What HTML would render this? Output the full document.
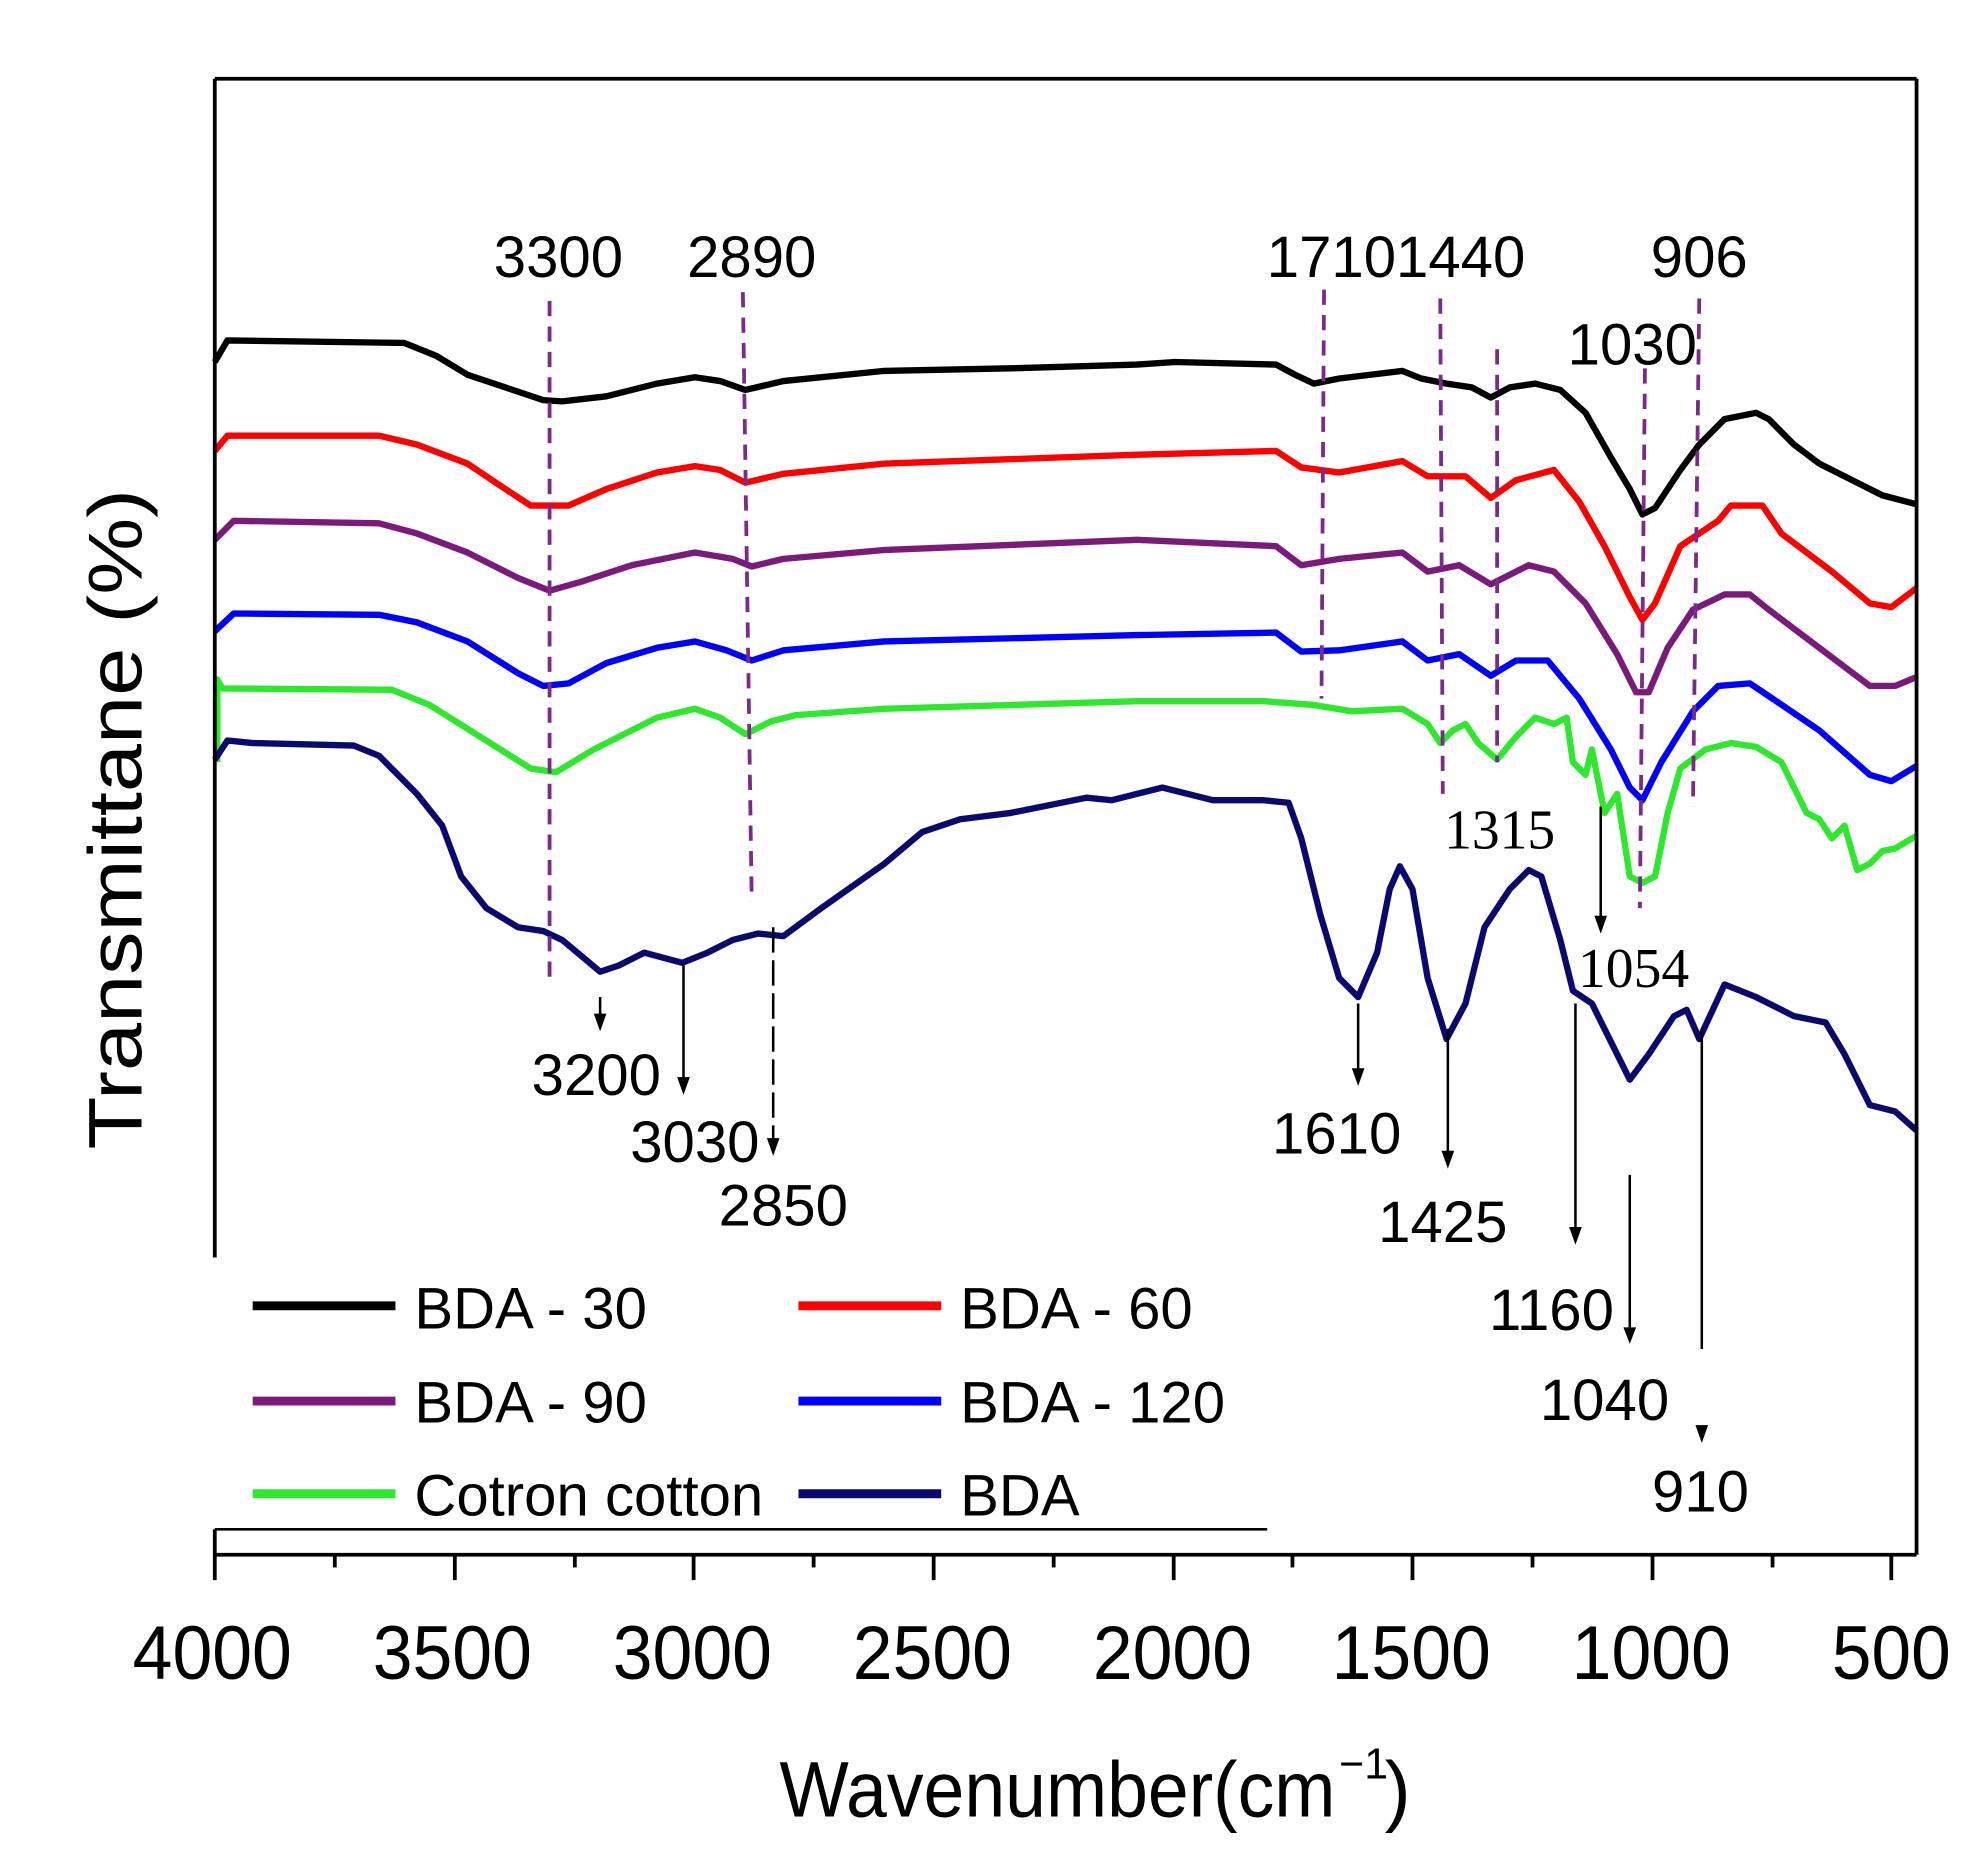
<!DOCTYPE html>
<html><head><meta charset="utf-8"><style>html,body{margin:0;padding:0;background:#fff}svg{display:block}</style></head>
<body>
<svg width="1981" height="1871" viewBox="0 0 1568 1473" preserveAspectRatio="none" xmlns="http://www.w3.org/2000/svg" font-family="Liberation Sans, sans-serif">
<rect width="1568" height="1473" fill="#fff"/>
<g fill="none" stroke-width="5" stroke-linejoin="round">
<polyline stroke="#000" points="170,285 180,268 320,270 345,280 370,295 400,305 430,315 445,316 480,312 520,302 550,297 570,300 590,307 620,300 700,292 800,290 900,287 930,285 1010,287 1025,295 1040,302 1060,298 1110,292 1125,298 1145,302 1165,305 1180,313 1195,305 1215,302 1235,307 1255,325 1275,360 1290,385 1300,405 1310,400 1330,370 1345,350 1365,330 1390,325 1400,330 1420,350 1440,365 1470,380 1490,390 1517,397"/>
<polyline stroke="#f00" points="170,355 180,343 300,343 330,350 370,365 400,385 420,398 450,398 480,385 520,372 550,367 570,370 590,380 620,373 700,365 900,358 1010,355 1030,368 1060,372 1110,363 1130,375 1160,375 1180,392 1200,378 1230,370 1250,395 1270,430 1290,470 1300,488 1310,475 1330,430 1360,410 1370,398 1395,398 1410,420 1450,450 1480,475 1497,478 1517,463"/>
<polyline stroke="#7a1a7a" points="170,425 185,410 300,412 330,420 370,435 410,455 435,465 460,458 500,445 550,435 580,440 595,446 620,440 700,433 900,425 1010,430 1030,445 1060,440 1110,435 1130,450 1155,445 1180,460 1210,445 1230,450 1255,475 1280,515 1295,545 1305,545 1320,510 1340,480 1365,468 1385,468 1400,480 1440,510 1480,540 1500,540 1517,533"/>
<polyline stroke="#00f" points="170,497 185,483 300,484 330,490 370,505 410,530 430,540 450,538 480,522 520,510 550,505 575,512 595,520 620,512 700,505 900,500 1010,498 1030,513 1060,512 1110,505 1130,520 1155,515 1180,532 1200,520 1225,520 1250,550 1275,590 1290,620 1300,630 1315,600 1340,560 1360,540 1385,538 1400,548 1440,575 1480,610 1497,615 1517,603"/>
<polyline stroke="#2ee82e" points="172,600 172,535 176,542 310,543 340,555 380,580 420,605 440,608 470,590 520,565 550,558 570,565 590,578 610,568 630,563 700,558 900,552 1000,552 1040,555 1070,560 1110,558 1130,570 1140,585 1150,575 1160,570 1170,585 1185,598 1200,580 1215,565 1230,570 1240,565 1245,600 1255,610 1260,590 1270,640 1280,625 1290,690 1300,695 1310,690 1320,640 1330,605 1350,590 1370,585 1390,588 1410,600 1430,640 1440,645 1450,660 1460,650 1470,685 1480,680 1490,670 1500,668 1517,658"/>
<polyline stroke="#0a0a6e" points="170,598 180,583 200,585 280,587 300,595 330,625 350,650 365,690 385,715 410,730 430,733 445,740 475,765 490,760 510,750 540,758 560,750 580,740 600,735 620,737 650,715 700,680 730,655 760,645 800,640 860,628 880,630 920,620 960,630 1000,630 1020,632 1030,660 1045,720 1060,770 1075,785 1090,750 1100,700 1108,682 1118,700 1130,770 1145,818 1160,790 1175,730 1195,700 1210,685 1220,690 1235,740 1245,780 1260,790 1275,820 1290,850 1305,830 1325,800 1335,795 1345,818 1365,775 1390,785 1420,800 1445,805 1460,830 1480,870 1500,875 1517,890"/>
</g>
<g stroke="#7a2a8a" stroke-width="3" stroke-dasharray="12,8">
<line x1="435" y1="237" x2="435" y2="770"/>
<line x1="588" y1="230" x2="595" y2="710"/>
<line x1="1048" y1="228" x2="1046" y2="550"/>
<line x1="1140" y1="235" x2="1142" y2="625"/>
<line x1="1185" y1="275" x2="1185" y2="600"/>
<line x1="1302" y1="290" x2="1298" y2="715"/>
<line x1="1345" y1="235" x2="1340" y2="635"/>
</g>
<g stroke="#000" stroke-width="2">
<line x1="475" y1="785" x2="475" y2="800"/>
<line x1="541" y1="760" x2="541" y2="850"/>
<line x1="612" y1="730" x2="612" y2="898" stroke-dasharray="20,6"/>
<line x1="1075" y1="790" x2="1075" y2="843"/>
<line x1="1146" y1="810" x2="1146" y2="908"/>
<line x1="1247" y1="790" x2="1247" y2="968"/>
<line x1="1290" y1="925" x2="1290" y2="1045"/>
<line x1="1347" y1="812" x2="1347" y2="1062"/>
<line x1="1267" y1="635" x2="1267" y2="723"/>
</g>
<g fill="#000">
<polygon points="470,798 480,798 475,812"/>
<polygon points="536,848 546,848 541,862"/>
<polygon points="607,896 617,896 612,910"/>
<polygon points="1070,841 1080,841 1075,855"/>
<polygon points="1141,906 1151,906 1146,920"/>
<polygon points="1242,966 1252,966 1247,980"/>
<polygon points="1285,1045 1295,1045 1290,1058"/>
<polygon points="1342,1122 1352,1122 1347,1136"/>
<polygon points="1262,721 1272,721 1267,735"/>
</g>
<g font-size="46" text-anchor="middle" fill="#000">
<text x="442" y="218">3300</text>
<text x="595" y="218">2890</text>
<text x="1105" y="218">17101440</text>
<text x="1345" y="218">906</text>
<text x="1292" y="287">1030</text>
<text x="472" y="862">3200</text>
<text x="550" y="915">3030</text>
<text x="620" y="965">2850</text>
<text x="1058" y="908">1610</text>
<text x="1142" y="978">1425</text>
<text x="1228" y="1047">1160</text>
<text x="1270" y="1118">1040</text>
<text x="1346" y="1190">910</text>
</g>
<g font-family="Liberation Serif, serif" font-size="44" text-anchor="middle" fill="#000">
<text x="1187" y="668">1315</text>
<text x="1293" y="777">1054</text>
</g>
<g stroke="#000" stroke-width="3" fill="none">
<line x1="170" y1="62" x2="1517" y2="62"/>
<line x1="1517" y1="62" x2="1517" y2="1224"/>
<line x1="170" y1="62" x2="170" y2="990"/>
<line x1="170" y1="1204" x2="1003" y2="1204" stroke-width="2"/>
<line x1="170" y1="1204" x2="170" y2="1244"/>
<line x1="170" y1="1224" x2="1517" y2="1224"/>
<line x1="360" y1="1224" x2="360" y2="1244"/>
<line x1="549" y1="1224" x2="549" y2="1244"/>
<line x1="739" y1="1224" x2="739" y2="1244"/>
<line x1="929" y1="1224" x2="929" y2="1244"/>
<line x1="1118" y1="1224" x2="1118" y2="1244"/>
<line x1="1308" y1="1224" x2="1308" y2="1244"/>
<line x1="1497" y1="1224" x2="1497" y2="1244"/>
<line x1="265" y1="1224" x2="265" y2="1234"/>
<line x1="455" y1="1224" x2="455" y2="1234"/>
<line x1="644" y1="1224" x2="644" y2="1234"/>
<line x1="834" y1="1224" x2="834" y2="1234"/>
<line x1="1023" y1="1224" x2="1023" y2="1234"/>
<line x1="1213" y1="1224" x2="1213" y2="1234"/>
<line x1="1403" y1="1224" x2="1403" y2="1234"/>
</g>
<g font-size="60" text-anchor="middle" fill="#000">
<text x="168" y="1322" textLength="126" lengthAdjust="spacingAndGlyphs">4000</text>
<text x="358" y="1322" textLength="126" lengthAdjust="spacingAndGlyphs">3500</text>
<text x="548" y="1322" textLength="126" lengthAdjust="spacingAndGlyphs">3000</text>
<text x="738" y="1322" textLength="126" lengthAdjust="spacingAndGlyphs">2500</text>
<text x="928" y="1322" textLength="126" lengthAdjust="spacingAndGlyphs">2000</text>
<text x="1117" y="1322" textLength="126" lengthAdjust="spacingAndGlyphs">1500</text>
<text x="1307" y="1322" textLength="126" lengthAdjust="spacingAndGlyphs">1000</text>
<text x="1497" y="1322" textLength="94" lengthAdjust="spacingAndGlyphs">500</text>
</g>
<text x="617" y="1430" font-size="62" textLength="440" lengthAdjust="spacingAndGlyphs">Wavenumber(cm</text>
<text x="1060" y="1400" font-size="34">−1</text>
<text x="1096" y="1430" font-size="62">)</text>
<text transform="translate(112,645) rotate(-90)" font-size="60" text-anchor="middle" textLength="520" lengthAdjust="spacingAndGlyphs">Transmittane (%)</text>
<g stroke-width="7">
<line x1="200" y1="1028" x2="313" y2="1028" stroke="#000"/>
<line x1="632" y1="1028" x2="745" y2="1028" stroke="#f00"/>
<line x1="200" y1="1103" x2="313" y2="1103" stroke="#7a1a7a"/>
<line x1="632" y1="1103" x2="745" y2="1103" stroke="#00f"/>
<line x1="200" y1="1176" x2="313" y2="1176" stroke="#2ee82e"/>
<line x1="632" y1="1176" x2="745" y2="1176" stroke="#0a0a6e"/>
</g>
<g font-size="46" fill="#000">
<text x="328" y="1046">BDA - 30</text>
<text x="760" y="1046">BDA - 60</text>
<text x="328" y="1120">BDA - 90</text>
<text x="760" y="1120">BDA - 120</text>
<text x="328" y="1193">Cotron cotton</text>
<text x="760" y="1193">BDA</text>
</g>
</svg>
</body></html>
